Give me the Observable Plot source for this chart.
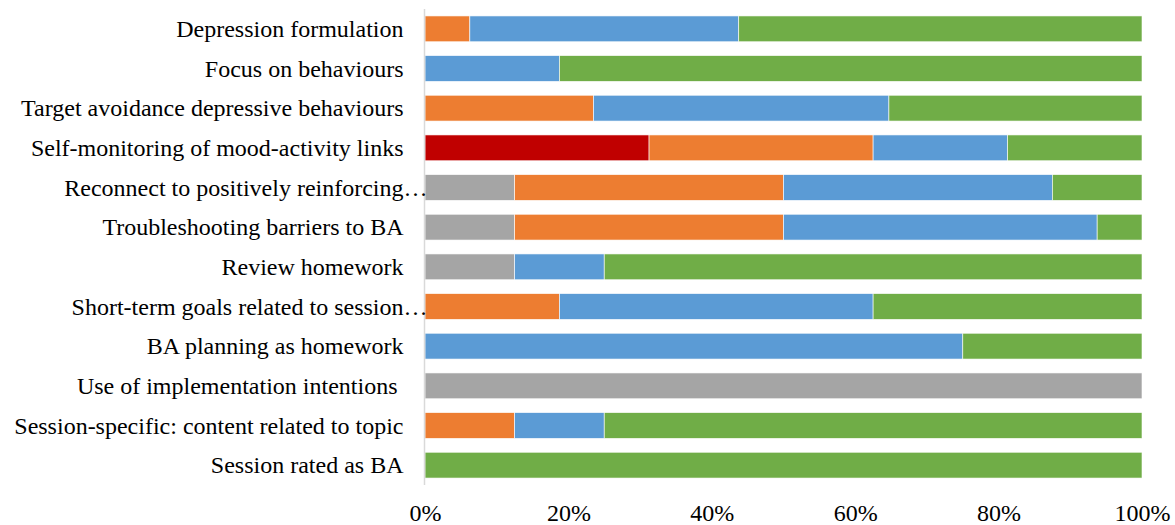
<!DOCTYPE html>
<html>
<head>
<meta charset="utf-8">
<script src="https://cdn.jsdelivr.net/npm/d3@7"></script>
<script src="https://cdn.jsdelivr.net/npm/@observablehq/plot@0.6"></script>
<style>
  html, body { margin: 0; padding: 0; background: #ffffff; }
  #chart { width: 1175px; height: 525px; }
</style>
</head>
<body>
<div id="chart"></div>
<script>
// Categories, top to bottom (labels as displayed, truncated ones included)
const categories = [
  "Depression formulation",
  "Focus on behaviours",
  "Target avoidance depressive behaviours",
  "Self-monitoring of mood-activity links",
  "Reconnect to positively reinforcing…",
  "Troubleshooting barriers to BA",
  "Review homework",
  "Short-term goals related to session…",
  "BA planning as homework",
  "Use of implementation intentions\u00a0",
  "Session-specific: content related to topic",
  "Session rated as BA"
];
const truncated = [
  "Reconnect to positively reinforcing…",
  "Short-term goals related to session…"
];

// Series (stacking order left to right), percentages per category
const seriesNames = ["Series 1", "Series 2", "Series 3", "Series 4", "Series 5"];
const seriesColors = ["#C00000", "#A5A5A5", "#ED7D31", "#5B9BD5", "#70AD47"];
const series1 = [0, 0, 0, 31.25, 0, 0, 0, 0, 0, 0, 0, 0];
const series2 = [0, 0, 0, 0, 12.5, 12.5, 12.5, 0, 0, 100, 0, 0];
const series3 = [6.25, 0, 23.5, 31.25, 37.5, 37.5, 0, 18.75, 0, 0, 12.5, 0];
const series4 = [37.5, 18.75, 41.2, 18.75, 37.5, 43.75, 12.5, 43.75, 75, 0, 12.5, 0];
const series5 = [56.25, 81.25, 35.3, 18.75, 12.5, 6.25, 75, 37.5, 25, 0, 75, 100];
const xTicks = [0, 20, 40, 60, 80, 100];

const seriesValues = [series1, series2, series3, series4, series5];
const data = [];
seriesNames.forEach((s, si) => {
  categories.forEach((c, ci) => {
    const v = seriesValues[si][ci];
    if (v > 0) data.push({ category: c, series: s, value: v });
  });
});

const font = "'Liberation Serif', 'Times New Roman', serif";

const chart = Plot.plot({
  width: 1175,
  height: 525,
  marginTop: 9,
  marginBottom: 40,
  marginLeft: 425,
  marginRight: 33,
  style: { fontFamily: font, fontSize: "24px", color: "#000", background: "#fff" },
  x: { domain: [0, 100], axis: null },
  y: { domain: categories, axis: null, paddingInner: 0.35, paddingOuter: 0.175, round: false },
  color: { type: "ordinal", domain: seriesNames, range: seriesColors },
  marks: [
    Plot.barX(data, Plot.stackX({
      y: "category",
      x: "value",
      fill: "series",
      order: seriesNames,
      stroke: "#ffffff",
      strokeWidth: 0.75,
      strokeOpacity: 0.8
    })),
    Plot.ruleX([0], { stroke: "#d9d9d9", strokeWidth: 1.5, dx: -1 }),
    Plot.text(categories.filter(c => !truncated.includes(c)), {
      y: d => d, frameAnchor: "left", textAnchor: "end", dx: -22,
      fontSize: 24, fill: "#000"
    }),
    Plot.text(truncated, {
      y: d => d, frameAnchor: "left", textAnchor: "end", dx: 2,
      fontSize: 24, fill: "#000"
    }),
    Plot.axisX(xTicks, {
      tickSize: 0, tickPadding: 18, tickFormat: d => d + "%",
      fontSize: 24, fill: "#000", label: null
    })
  ]
});
document.getElementById("chart").appendChild(chart);
</script>
</body>
</html>
